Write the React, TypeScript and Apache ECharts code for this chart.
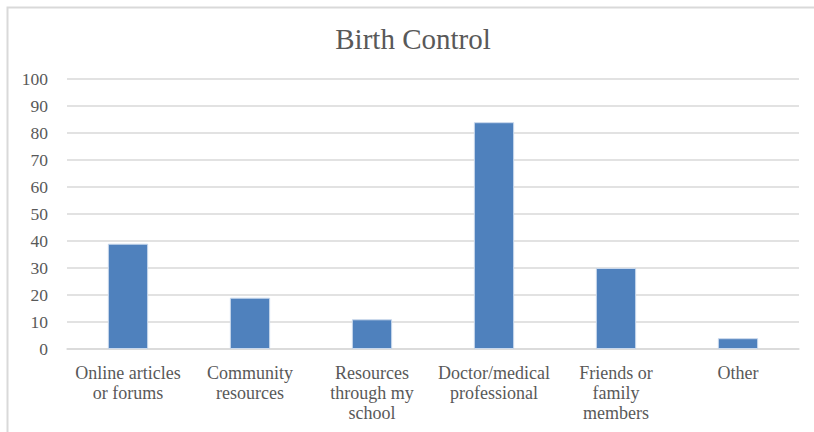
import React, { useEffect, useRef } from "react";
import * as echarts from "echarts";

const categories = [
  "Online articles\nor forums",
  "Community\nresources",
  "Resources\nthrough my\nschool",
  "Doctor/medical\nprofessional",
  "Friends or\nfamily\nmembers",
  "Other",
];
const values = [39, 19, 11, 84, 30, 4];
const titleText = "Birth Control";

const FONT = "'Liberation Serif', 'DejaVu Serif', serif";

export default function App() {
  const ref = useRef<HTMLDivElement>(null);
  useEffect(() => {
    if (!ref.current) return;
    const chart = echarts.init(ref.current, undefined, { renderer: "svg" });
    chart.setOption({
      animation: false,
      backgroundColor: "#ffffff",
      title: {
        text: titleText,
        left: 408,
        top: 19,
        textAlign: "center",
        textStyle: {
          fontFamily: FONT,
          fontSize: 29,
          fontWeight: "normal",
          color: "#595959",
        },
      },
      graphic: [
        {
          type: "rect",
          shape: { x: 7.5, y: 7.5, width: 830, height: 440 },
          style: { fill: "none", stroke: "#d9d9d9", lineWidth: 2 },
          silent: true,
          z: 0,
        },
      ],
      grid: { left: 67, right: 15, top: 79, bottom: 83, containLabel: false },
      xAxis: {
        type: "category",
        data: categories,
        axisLine: { show: true, lineStyle: { color: "#d9d9d9", width: 1.5 } },
        axisTick: { show: false },
        axisLabel: {
          interval: 0,
          fontFamily: FONT,
          fontSize: 18,
          color: "#595959",
          lineHeight: 20,
          margin: 14,
        },
      },
      yAxis: {
        type: "value",
        min: 0,
        max: 100,
        interval: 10,
        axisLine: { show: false },
        axisTick: { show: false },
        splitLine: { lineStyle: { color: "#d9d9d9", width: 1.5 } },
        axisLabel: {
          fontFamily: FONT,
          fontSize: 17.5,
          color: "#595959",
          margin: 19,
        },
      },
      series: [
        {
          type: "bar",
          data: values,
          barWidth: "33%",
          itemStyle: { color: "#4f81bd", borderColor: "#c9d8ec", borderWidth: 1 },
        },
      ],
    });
    return () => chart.dispose();
  }, []);
  return <div ref={ref} style={{ width: 814, height: 432, position: "absolute", left: 0, top: 0 }} />;
}
